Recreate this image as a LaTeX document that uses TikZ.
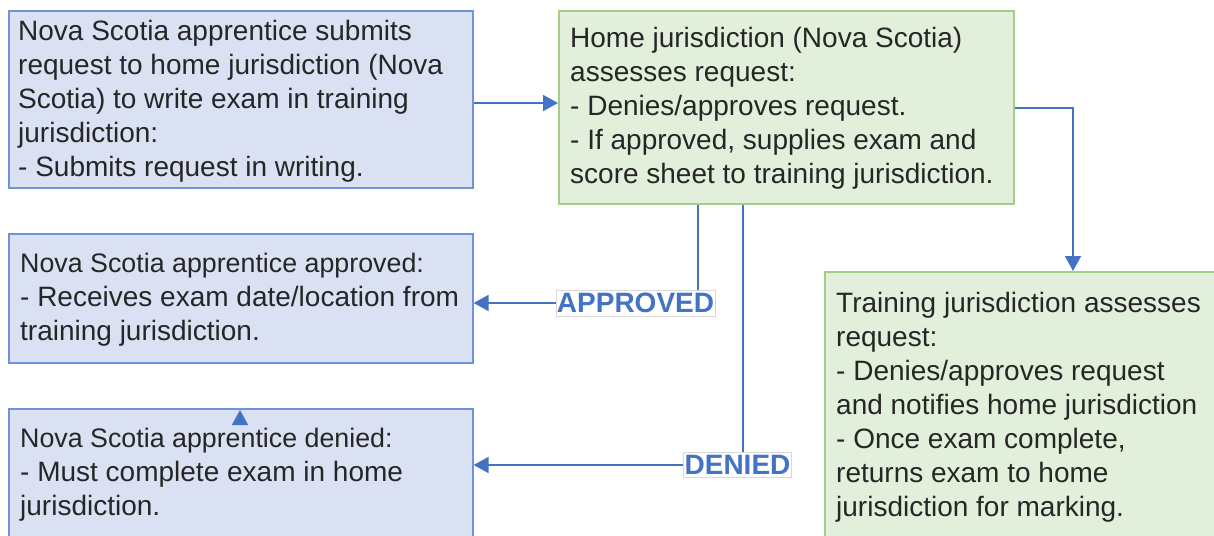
\documentclass[tikz,border=0pt]{standalone}
\usepackage{fontspec}
\setmainfont{Liberation Sans}
\usetikzlibrary{arrows.meta}
\definecolor{bfill}{HTML}{DAE1F3}
\definecolor{bdraw}{HTML}{6F93D6}
\definecolor{gfill}{HTML}{E2EFDA}
\definecolor{gdraw}{HTML}{A3CD88}
\definecolor{arrc}{HTML}{4472C4}
\definecolor{lbord}{HTML}{D9D9D9}
\tikzset{
  bluebox/.style={draw=bdraw, fill=bfill, line width=1.6pt, rectangle, anchor=north west, inner sep=0pt},
  greenbox/.style={draw=gdraw, fill=gfill, line width=1.6pt, rectangle, anchor=north west, inner sep=0pt},
  txt/.style={anchor=north west, inner sep=0pt, align=left, text=black!85, font=\fontsize{28}{34}\selectfont},
  conn/.style={draw=arrc, line width=1.8pt},
  arr/.style={conn, -{Triangle[length=15pt,width=16pt]}},
  lbl/.style={fill=white, draw=lbord, line width=0.8pt, inner xsep=1pt, inner ysep=3pt, text=arrc, font=\bfseries\fontsize{28}{30}\selectfont}
}
\newcommand{\smallfirst}{\fontsize{26.8}{34}\selectfont}
\begin{document}
\begin{tikzpicture}[x=1pt,y=-1pt]
\useasboundingbox (0,0) rectangle (1214,535);
% boxes
\node[bluebox, minimum width=464pt, minimum height=177pt] (b1) at (8,10) {};
\node[greenbox, minimum width=455pt, minimum height=193pt] (b2) at (558,10) {};
\node[bluebox, minimum width=464pt, minimum height=129pt] (b3) at (8,233) {};
\node[bluebox, minimum width=464pt, minimum height=160pt] (b4) at (8,408) {};
\node[greenbox, minimum width=498pt, minimum height=300pt] (b5) at (824,271) {};
% texts
\node[txt] (t1) at (18,20) {Nova Scotia apprentice submits\\request to home jurisdiction (Nova\\Scotia) to write exam in training\\jurisdiction:\\- Submits request in writing.};
\node[txt] (t2) at (570,27) {Home jurisdiction (Nova Scotia)\\assesses request:\\- Denies/approves request.\\- If approved, supplies exam and\\score sheet to training jurisdiction.};
\node[txt] (t3) at (20,253) {{\smallfirst Nova Scotia apprentice approved:}\\- Receives exam date/location from\\training jurisdiction.};
\node[txt] (t4) at (20,428) {{\smallfirst Nova Scotia apprentice denied:}\\- Must complete exam in home\\jurisdiction.};
\node[txt] (t5) at (836,292) {Training jurisdiction assesses\\request:\\- Denies/approves request\\and notifies home jurisdiction\\- Once exam complete,\\returns exam to home\\jurisdiction for marking.};
% labels
\node[lbl] (lA) at (635.5,303) {APPROVED};
\node[lbl] (lD) at (737.5,465) {DENIED};
% connectors
\coordinate (c12) at (0,103);
\draw[arr] (b1.east |- c12) -- (b2.west |- c12);
\coordinate (c25) at (1073,108);
\draw[arr] (b2.east |- c25) -| (b5.north -| c25);
\coordinate (cA) at (698,0);
\draw[conn] (b2.south -| cA) -- (lA.north -| cA);
\draw[arr] (lA.west) -- (b3.east |- lA.west);
\coordinate (cD) at (743,0);
\draw[conn] (b2.south -| cD) -- (lD.north -| cD);
\draw[arr] (lD.west) -- (b4.east |- lD.west);
\coordinate (stub) at (240,421);
\draw[arr] (stub) -- ([yshift=-2pt]b4.north -| stub);
\end{tikzpicture}
\end{document}
